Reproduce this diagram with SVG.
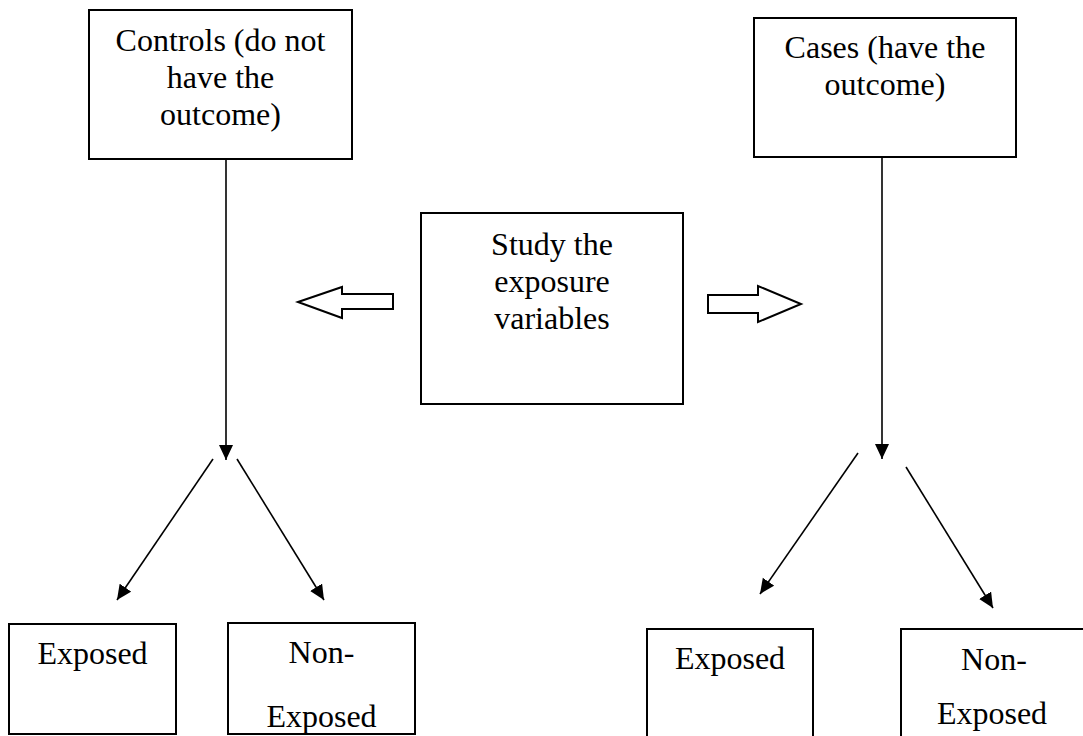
<svg xmlns="http://www.w3.org/2000/svg" width="1083" height="736" viewBox="0 0 1083 736">
<style>
.box{fill:#fff;stroke:#000;stroke-width:2}
.t{font-family:"Liberation Serif","Times New Roman",serif;font-size:32px;fill:#000;text-anchor:middle}
.c{stroke:#000;stroke-width:1.6;fill:none}
.h{fill:#fff;stroke:#000;stroke-width:2;stroke-linejoin:miter}
</style>
<defs>
<marker id="ah" markerUnits="userSpaceOnUse" markerWidth="16" markerHeight="15" refX="15" refY="7" orient="auto">
<path d="M0,0 L15,7 L0,14 Z" fill="#000"/>
</marker>
</defs>
<rect width="1083" height="736" fill="#fff"/>
<g id="controls">
<rect class="box" x="89" y="10" width="263" height="149"/>
<text class="t" x="220.5" y="51">Controls (do not</text>
<text class="t" x="220.5" y="88">have the</text>
<text class="t" x="220.5" y="125">outcome)</text>
</g>
<g id="cases">
<rect class="box" x="754" y="18" width="262" height="139"/>
<text class="t" x="885" y="58">Cases (have the</text>
<text class="t" x="885" y="95">outcome)</text>
</g>
<g id="study">
<rect class="box" x="421" y="213" width="262" height="191"/>
<text class="t" x="552" y="255">Study the</text>
<text class="t" x="552" y="292">exposure</text>
<text class="t" x="552" y="329">variables</text>
</g>
<g id="left-exposed">
<rect class="box" x="9" y="624" width="167" height="110"/>
<text class="t" x="92.5" y="664">Exposed</text>
</g>
<g id="left-nonexposed">
<rect class="box" x="228" y="623" width="187" height="111"/>
<text class="t" x="321.5" y="663">Non-</text>
<text class="t" x="321.5" y="727">Exposed</text>
</g>
<g id="right-exposed">
<rect class="box" x="647" y="629" width="166" height="120"/>
<text class="t" x="730" y="669">Exposed</text>
</g>
<g id="right-nonexposed">
<rect class="box" x="901" y="629" width="187" height="120"/>
<text class="t" x="994" y="670">Non-</text>
<text class="t" x="992" y="724">Exposed</text>
</g>
<g id="connectors">
<line class="c" x1="226" y1="159" x2="226" y2="460" marker-end="url(#ah)"/>
<line class="c" x1="213" y1="459" x2="117" y2="600" marker-end="url(#ah)"/>
<line class="c" x1="237" y1="459" x2="324" y2="600" marker-end="url(#ah)"/>
<line class="c" x1="882" y1="157" x2="882" y2="459" marker-end="url(#ah)"/>
<line class="c" x1="858" y1="453" x2="760" y2="594" marker-end="url(#ah)"/>
<line class="c" x1="906" y1="467" x2="993" y2="608" marker-end="url(#ah)"/>
<polygon class="h" points="298,302 342,287 342,294 393,294 393,309 342,309 342,318"/>
<polygon class="h" points="708,295 758,295 758,286 801,304 758,322 758,313 708,313"/>
</g>
</svg>
